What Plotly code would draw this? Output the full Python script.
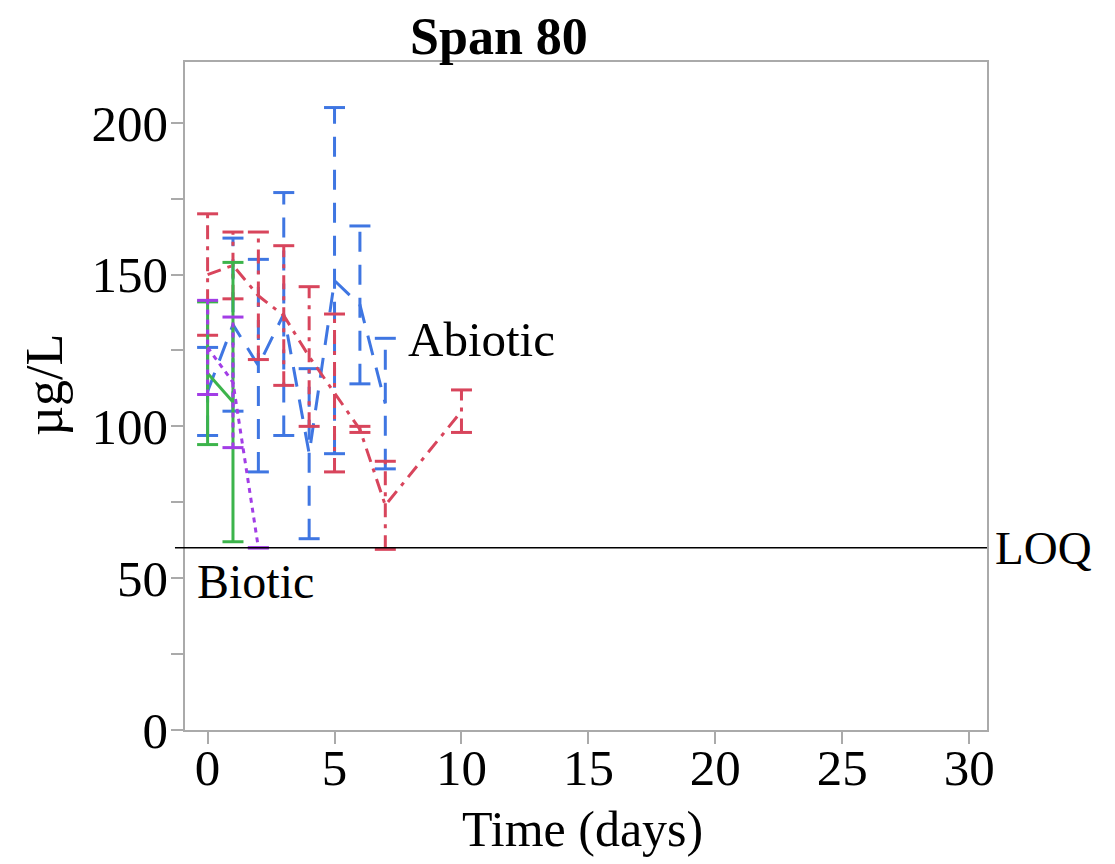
import plotly.graph_objects as go

# ---- data ----
red_days = [0, 1, 2, 3, 4, 5, 6, 7, 10]
red_mean = [150, 153, 143, 136.5, 123, 111, 99, 74, 105]
red_err = [20, 11, 21, 23, 23, 26, 1, 14.5, 7]

blue_days = [0, 1, 2, 3, 4, 5, 6, 7]
blue_mean = [111.5, 133.5, 120, 137, 91, 148, 140, 107.5]
blue_err = [14.5, 28.5, 35, 40, 28, 57, 26, 21.5]

green_days = [0, 1]
green_mean = [117.5, 108]
green_err = [23.5, 46]

purple_days = [0, 1, 2]
purple_mean = [126, 114.5, 60]
purple_err = [15.5, 21.5, 0]

LOQ = 60
x_ticks = [0, 5, 10, 15, 20, 25, 30]
y_ticks = [0, 50, 100, 150, 200]

FONT = "Liberation Serif"

series = [
    ("Abiotic blue", blue_days, blue_mean, blue_err, "#3F76E2", "20px,13px"),
    ("Abiotic red", red_days, red_mean, red_err, "#D8455C", "14px,7px,4px,7px"),
    ("Biotic green", green_days, green_mean, green_err, "#3CB44B", "solid"),
    ("Biotic purple", purple_days, purple_mean, purple_err, "#A23DE6", "5px,5px"),
]

fig = go.Figure()
for name, xs, ms, es, col, dash in series:
    ex, ey = [], []
    for x, m, e in zip(xs, ms, es):
        ex += [x, x, None]
        ey += [m - e, m + e, None]
    fig.add_trace(go.Scatter(x=ex, y=ey, mode="lines",
                             line=dict(color=col, width=3, dash=dash),
                             hoverinfo="skip", showlegend=False))
    cx = list(xs) + list(xs)
    cy = [m - e for m, e in zip(ms, es)] + [m + e for m, e in zip(ms, es)]
    fig.add_trace(go.Scatter(x=cx, y=cy, mode="markers",
                             marker=dict(symbol="line-ew", size=15,
                                         line=dict(color=col, width=3)),
                             hoverinfo="skip", showlegend=False))
    fig.add_trace(go.Scatter(x=xs, y=ms, mode="lines", name=name,
                             line=dict(color=col, width=3, dash=dash),
                             showlegend=False))

fig.add_shape(type="line", xref="paper", yref="y", x0=-0.0125, x1=1.0,
              y0=LOQ, y1=LOQ, line=dict(color="black", width=1.5))

fig.add_annotation(text="LOQ", xref="paper", yref="y", x=1.007, y=LOQ,
                   xanchor="left", yanchor="middle", showarrow=False,
                   font=dict(family=FONT, size=47, color="black"))
fig.add_annotation(text="Biotic", xref="x", yref="y", x=-0.5, y=49,
                   xanchor="left", yanchor="middle", showarrow=False,
                   font=dict(family=FONT, size=48, color="black"))
fig.add_annotation(text="Abiotic", xref="x", yref="y", x=7.8, y=128.5,
                   xanchor="left", yanchor="middle", showarrow=False,
                   font=dict(family=FONT, size=49, color="black"))

fig.add_annotation(text="µg/L", xref="paper", yref="paper", x=-0.175, y=0.516,
                   xanchor="center", yanchor="middle", textangle=-90,
                   showarrow=False,
                   font=dict(family=FONT, size=52, color="black"))
fig.add_annotation(text="Time (days)", xref="paper", yref="paper", x=0.496,
                   y=-0.148, xanchor="center", yanchor="middle",
                   showarrow=False,
                   font=dict(family=FONT, size=50, color="black"))

axis_common = dict(showline=True, linecolor="#AAAAAA", linewidth=1.5,
                   mirror=True, ticks="outside", tickcolor="#AAAAAA",
                   ticklen=12, tickwidth=1.5, showgrid=False, zeroline=False,
                   automargin=False,
                   tickfont=dict(family=FONT, size=51, color="black"))

fig.update_layout(
    width=1107, height=856,
    paper_bgcolor="white", plot_bgcolor="white",
    margin=dict(l=177, r=128, t=54, b=134),
    title=dict(text="<b>Span 80</b>", x=0.4435, xanchor="center",
               y=0.968, yanchor="middle",
               font=dict(family=FONT, size=52, color="black")),
    xaxis=dict(range=[-0.89, 30.7], tickvals=x_ticks, ticklabelstandoff=-20,
               **axis_common),
    yaxis=dict(range=[0, 220], tickvals=y_ticks, ticklabelstandoff=-7,
               minor=dict(tickvals=[25, 75, 125, 175], ticks="outside",
                          ticklen=12, tickcolor="#AAAAAA", tickwidth=1.5),
               **axis_common),
)

fig.write_html("out.html")
